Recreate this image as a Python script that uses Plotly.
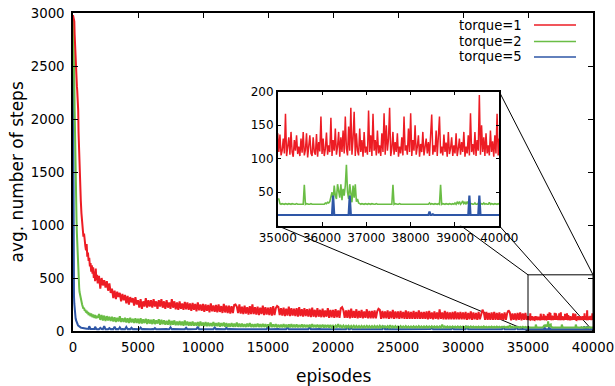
import plotly.graph_objects as go

# ---------------------------------------------------------------
# Episode grid: fine near the start and in the zoomed window
# ---------------------------------------------------------------
ep_start = list(range(0, 500, 25))
ep_early = list(range(500, 2000, 50))
ep_mid = list(range(2000, 35000, 100))
ep_zoom = list(range(35000, 40001, 25))
episodes = ep_start + ep_early + ep_mid + ep_zoom

# ---------------------------------------------------------------
# torque = 1
# ---------------------------------------------------------------
t1_start = [2980, 2960, 2950, 2940, 2920, 2800, 2700, 2600, 2500, 2450,
            2400, 2360, 2310, 2270, 2230, 2190, 2080, 1880, 1760, 1640]
t1_early = [1530, 1400, 1230, 1110, 1000, 950, 890, 920, 820, 800,
            760, 820, 700, 740, 660, 690, 610, 640, 560, 620,
            540, 600, 500, 560, 470, 590, 480, 530, 450, 520]
t1_mid = [
    520, 400, 500, 430, 480, 410, 470, 380, 450, 360,
    400, 310, 380, 300, 370, 320, 360, 280, 350, 290,
    340, 260, 330, 250, 320, 270, 310, 240, 320, 250,
    290, 220, 300, 210, 280, 230, 310, 220, 290, 230,
    290, 220, 300, 230, 280, 210, 290, 230, 300, 220,
    280, 210, 290, 220, 270, 210, 300, 220, 280, 205,
    270, 200, 280, 210, 260, 200, 275, 205, 270, 200,
    260, 190, 265, 200, 255, 185, 270, 195, 250, 190,
    255, 180, 250, 190, 245, 175, 260, 185, 240, 180,
    245, 175, 250, 180, 235, 170, 255, 175, 240, 170,
    240, 165, 235, 170, 245, 250, 230, 170, 250, 165,
    230, 160, 240, 165, 225, 155, 235, 160, 250, 160,
    225, 155, 230, 150, 220, 160, 240, 150, 225, 155,
    220, 150, 225, 145, 235, 150, 215, 235, 225, 150,
    215, 145, 220, 140, 210, 145, 230, 140, 215, 145,
    210, 140, 215, 135, 225, 140, 205, 135, 215, 140,
    205, 135, 210, 130, 220, 135, 200, 130, 215, 135,
    200, 130, 210, 130, 195, 135, 215, 125, 200, 130,
    200, 125, 205, 130, 195, 125, 215, 225, 195, 125,
    195, 125, 200, 120, 210, 125, 190, 125, 205, 120,
    190, 125, 200, 120, 185, 125, 205, 120, 190, 120,
    190, 120, 195, 120, 185, 210, 200, 115, 190, 120,
    185, 120, 195, 115, 185, 120, 200, 115, 185, 120,
    185, 115, 190, 120, 180, 115, 195, 115, 185, 115,
    180, 115, 190, 115, 180, 115, 195, 115, 180, 115,
    180, 115, 185, 110, 190, 115, 175, 110, 185, 115,
    175, 110, 205, 115, 175, 110, 190, 110, 180, 110,
    175, 110, 180, 110, 185, 110, 175, 110, 180, 110,
    175, 110, 180, 105, 170, 110, 185, 105, 175, 110,
    170, 105, 180, 110, 170, 200, 175, 105, 180, 105,
    170, 105, 175, 105, 180, 105, 170, 105, 175, 105,
    165, 105, 175, 105, 170, 195, 175, 100, 165, 105,
    165, 100, 170, 105, 175, 100, 165, 105, 170, 105,
]
t1_zoom = [
    138, 110, 136, 105, 112, 130, 108, 167, 104, 115, 132, 106, 140, 110, 103, 128, 112, 135, 107, 118,
    104, 130, 109, 140, 105, 113, 138, 102, 120, 135, 108, 104, 132, 110, 106, 137, 103, 125, 111, 163,
    107, 130, 104, 115, 139, 106, 120, 110, 161, 104, 128, 112, 145, 106, 118, 140, 103, 132, 110, 142,
    108, 163, 115, 105, 148, 112, 176, 106, 130, 170, 104, 138, 112, 105, 145, 110, 128, 103, 140, 109,
    118, 106, 172, 110, 135, 104, 167, 112, 128, 105, 142, 108, 120, 104, 138, 110, 168, 106, 150, 112,
    130, 176, 104, 115, 140, 106, 125, 110, 138, 103, 118, 108, 132, 105, 163, 112, 120, 106, 145, 110,
    168, 104, 128, 112, 150, 106, 118, 135, 103, 122, 110, 140, 105, 115, 130, 108, 125, 104, 138, 166,
    106, 120, 110, 142, 104, 130, 163, 108, 118, 105, 136, 110, 124, 103, 140, 107, 115, 132, 104, 120,
    108, 138, 104, 115, 130, 106, 125, 110, 140, 103, 118, 108, 135, 105, 168, 110, 122, 106, 140, 104,
    128, 112, 195, 106, 150, 110, 132, 104, 138, 108, 120, 105, 142, 110, 126, 103, 135, 108, 167, 105,
    130,
]

# ---------------------------------------------------------------
# torque = 2
# ---------------------------------------------------------------
t2_start = [2950, 2850, 2700, 2550, 2350, 2100, 1850, 1650, 1450, 1300,
            1150, 1030, 920, 820, 730, 650, 580, 500, 450, 410]
t2_early = [370, 330, 300, 270, 250, 230, 210, 220, 190, 200,
            175, 190, 165, 180, 150, 170, 160, 140, 165, 145,
            130, 155, 140, 125, 150, 130, 120, 145, 125, 135]
t2_mid = [
    160, 105, 150, 100, 145, 95, 140, 100, 135, 95,
    135, 90, 130, 85, 125, 90, 140, 85, 120, 85,
    125, 80, 120, 75, 125, 80, 115, 75, 120, 75,
    115, 70, 120, 70, 110, 75, 115, 65, 110, 70,
    105, 65, 110, 65, 100, 70, 110, 60, 105, 65,
    100, 60, 95, 60, 105, 55, 95, 60, 100, 55,
    90, 55, 95, 55, 90, 50, 100, 55, 90, 50,
    85, 50, 90, 50, 80, 50, 85, 45, 90, 50,
    80, 45, 85, 45, 80, 45, 75, 45, 85, 45,
    75, 45, 80, 40, 75, 45, 80, 40, 75, 40,
    70, 40, 75, 40, 70, 40, 80, 40, 70, 40,
    70, 40, 65, 38, 70, 40, 75, 38, 65, 38,
    65, 38, 70, 38, 65, 36, 68, 38, 65, 36,
    62, 36, 80, 36, 62, 36, 65, 35, 60, 36,
    60, 35, 65, 35, 60, 35, 62, 35, 65, 35,
    60, 35, 62, 34, 58, 35, 62, 34, 60, 34,
    58, 34, 60, 34, 65, 34, 58, 34, 60, 34,
    56, 34, 60, 33, 56, 34, 58, 33, 56, 33,
    50, 33, 52, 33, 65, 33, 50, 33, 52, 33,
    48, 33, 50, 32, 48, 33, 50, 32, 49, 33,
    47, 32, 49, 33, 47, 32, 48, 33, 47, 32,
    46, 32, 48, 32, 46, 32, 49, 32, 46, 32,
    45, 32, 47, 32, 55, 32, 45, 32, 47, 32,
    44, 32, 46, 32, 44, 32, 46, 32, 44, 32,
    44, 32, 45, 32, 44, 32, 46, 32, 44, 32,
    43, 32, 45, 32, 44, 32, 45, 32, 43, 32,
    43, 32, 44, 32, 60, 32, 44, 32, 43, 32,
    42, 32, 44, 32, 42, 32, 44, 32, 42, 32,
    42, 32, 43, 32, 42, 32, 44, 32, 42, 32,
    41, 32, 42, 32, 41, 32, 43, 32, 41, 32,
    40, 32, 42, 32, 41, 32, 42, 32, 40, 32,
    40, 32, 41, 32, 40, 32, 55, 32, 40, 32,
    39, 32, 40, 32, 39, 32, 40, 32, 39, 32,
]
t2_zoom = [
    40, 40, 33, 32, 33, 32, 32, 33, 32, 32, 33, 32, 32, 33, 32, 32, 32, 33, 32, 32,
    32, 33, 32, 32, 61, 32, 33, 32, 32, 32, 33, 32, 32, 33, 32, 32, 33, 32, 32, 33,
    32, 33, 32, 34, 33, 35, 34, 36, 42, 50, 38, 60, 45, 40, 62, 48, 42, 62, 38, 55,
    45, 60, 91, 50, 40, 62, 48, 35, 60, 42, 62, 36, 40, 34, 33, 32, 33, 32, 32, 33,
    32, 32, 33, 32, 32, 33, 32, 32, 32, 33, 32, 32, 33, 32, 32, 32, 33, 32, 32, 33,
    32, 32, 33, 32, 61, 32, 33, 32, 32, 32, 33, 32, 32, 33, 32, 32, 32, 33, 32, 32,
    33, 32, 32, 32, 33, 32, 32, 33, 32, 32, 32, 33, 32, 32, 33, 32, 32, 34, 32, 33,
    32, 32, 33, 32, 32, 33, 32, 61, 32, 33, 32, 32, 33, 32, 32, 33, 32, 32, 33, 32,
    34, 32, 35, 33, 36, 32, 34, 37, 33, 35, 32, 36, 33, 34, 32, 33, 32, 32, 34, 32,
    32, 33, 35, 32, 33, 32, 34, 32, 33, 32, 32, 35, 32, 33, 32, 32, 33, 32, 32, 33,
    32,
]

# ---------------------------------------------------------------
# torque = 5
# ---------------------------------------------------------------
t5_start = [2750, 1200, 420, 330, 260, 200, 165, 140, 120, 105,
            92, 82, 74, 68, 62, 57, 52, 48, 44, 40]
t5_early = [38, 35, 32, 30, 28, 26, 25, 24, 23, 22,
            22, 21, 21, 20, 20, 45, 20, 19, 19, 19,
            18, 19, 18, 18, 40, 18, 18, 17, 18, 17]
t5_mid = [
    17, 30, 18, 17, 45, 17, 18, 17, 28, 17,
    18, 17, 40, 17, 18, 17, 35, 17, 18, 17,
    17, 38, 17, 18, 17, 30, 17, 18, 17, 17,
    18, 17, 32, 17, 18, 17, 17, 18, 17, 17,
    17, 18, 17, 28, 17, 17, 18, 17, 17, 18,
    17, 17, 18, 17, 17, 35, 17, 18, 17, 17,
    18, 17, 17, 18, 17, 17, 17, 30, 17, 17,
    17, 18, 17, 17, 17, 18, 40, 17, 17, 18,
    17, 17, 18, 17, 17, 17, 18, 17, 17, 33,
    17, 18, 17, 17, 17, 18, 17, 17, 30, 17,
    18, 17, 17, 17, 18, 17, 17, 17, 17, 18,
    17, 17, 18, 17, 17, 17, 17, 18, 17, 17,
    17, 18, 17, 17, 17, 18, 17, 17, 17, 17,
    55, 17, 17, 18, 17, 17, 17, 17, 18, 17,
    17, 17, 18, 17, 17, 35, 17, 17, 17, 18,
    17, 17, 17, 18, 17, 17, 17, 17, 18, 17,
    17, 17, 40, 17, 17, 18, 17, 17, 17, 17,
    18, 17, 17, 17, 17, 18, 17, 17, 17, 17,
    17, 17, 18, 17, 17, 17, 17, 18, 17, 17,
    17, 38, 17, 17, 35, 17, 17, 18, 17, 17,
    17, 17, 17, 18, 17, 17, 17, 17, 17, 18,
    17, 17, 17, 17, 18, 17, 17, 17, 17, 38,
    17, 18, 17, 17, 17, 17, 18, 17, 17, 17,
    17, 17, 17, 18, 17, 17, 17, 17, 18, 17,
    17, 17, 18, 17, 17, 17, 17, 17, 17, 18,
    17, 17, 17, 17, 17, 18, 35, 17, 17, 17,
    18, 17, 17, 17, 17, 17, 18, 17, 17, 17,
    17, 17, 32, 17, 17, 18, 17, 17, 17, 17,
    17, 17, 17, 38, 17, 17, 17, 18, 17, 17,
    17, 18, 17, 17, 17, 17, 17, 17, 18, 17,
    17, 17, 17, 18, 17, 17, 17, 17, 17, 17,
    17, 35, 17, 17, 17, 18, 17, 17, 17, 17,
    17, 33, 17, 17, 17, 17, 18, 17, 17, 16,
]
t5_zoom = [
    16, 16, 16, 16, 16, 16, 16, 16, 16, 16, 16, 16, 16, 16, 16, 16, 16, 16, 16, 16,
    17, 16, 16, 16, 16, 16, 16, 16, 16, 16, 16, 16, 16, 16, 16, 16, 16, 16, 16, 16,
    17, 16, 16, 16, 16, 16, 16, 16, 16, 16, 45, 16, 16, 16, 16, 16, 16, 16, 16, 16,
    17, 16, 16, 16, 16, 45, 16, 16, 16, 16, 16, 16, 16, 16, 16, 16, 16, 16, 16, 16,
    17, 16, 16, 16, 16, 16, 16, 16, 16, 16, 16, 16, 16, 16, 16, 16, 16, 16, 16, 16,
    17, 16, 16, 16, 16, 16, 16, 16, 16, 16, 16, 16, 16, 16, 16, 16, 16, 16, 16, 16,
    17, 16, 16, 16, 16, 16, 16, 16, 16, 16, 16, 16, 16, 16, 16, 16, 16, 21, 16, 16,
    17, 16, 16, 16, 16, 16, 16, 16, 16, 16, 16, 16, 16, 16, 16, 16, 16, 16, 16, 16,
    17, 16, 16, 16, 16, 16, 16, 16, 16, 16, 16, 16, 16, 45, 16, 16, 16, 16, 16, 16,
    17, 16, 45, 16, 16, 16, 16, 16, 16, 16, 16, 16, 16, 16, 16, 16, 16, 16, 16, 16,
    16,
]

torque_1 = t1_start + t1_early + t1_mid + t1_zoom
torque_2 = t2_start + t2_early + t2_mid + t2_zoom
torque_5 = t5_start + t5_early + t5_mid + t5_zoom
for s in (torque_1, torque_2, torque_5):
    assert len(s) == len(episodes), (len(s), len(episodes))

series_names = ["torque=1", "torque=2", "torque=5"]
series_values = [torque_1, torque_2, torque_5]
series_colors = ["#ED1C24", "#6ABD45", "#2E56A6"]

# axis ranges
main_x = [0, 40000]
main_y = [0, 3000]
zoom_x = [35000, 40000]
zoom_y = [0, 200]
zoom_box_top = 530          # height of the marked region in the main axes

x_ticks = list(range(0, 40001, 5000))
y_ticks = list(range(0, 3001, 500))
zx_ticks = list(range(35000, 40001, 1000))
zy_ticks = [50, 100, 150, 200]

# secondary right-hand tick marks (unlabelled)
right_range = [0, 9.876]
right_ticks = [0.963 + k for k in range(9)]

# inset placement (paper fractions of the main plotting area)
inset_dom_x = [0.3937, 0.8198]
inset_dom_y = [0.331, 0.7525]

FONT = "DejaVu Sans"

fig = go.Figure()

# main traces (torque=1 drawn last, on top)
for name, vals, col in zip(series_names[::-1], series_values[::-1],
                           series_colors[::-1]):
    fig.add_trace(go.Scatter(x=episodes, y=vals, mode="lines", name=name,
                             line=dict(color=col, width=2.0),
                             xaxis="x", yaxis="y", showlegend=False))

# inset traces
for name, vals, col, w in zip(series_names, series_values, series_colors,
                              [1.5, 1.6, 2.2]):
    fig.add_trace(go.Scatter(x=episodes, y=vals, mode="lines", name=name,
                             line=dict(color=col, width=w),
                             xaxis="x2", yaxis="y2", showlegend=False))

axis_common = dict(showline=True, linecolor="black", linewidth=1.5,
                   mirror="ticks", ticks="inside", tickcolor="black",
                   showgrid=False, zeroline=False, automargin=False)

fig.update_layout(
    width=615, height=386,
    margin=dict(l=73, r=22, t=13, b=55, autoexpand=False),
    paper_bgcolor="white", plot_bgcolor="white",
    font=dict(family=FONT, color="black"),
    xaxis=dict(range=main_x, tickvals=x_ticks, tickformat="d", ticklen=5,
               tickwidth=1.2, tickfont=dict(size=13.3), ticklabelstandoff=3,
               domain=[0, 1], **axis_common),
    yaxis=dict(range=main_y, tickvals=y_ticks, tickformat="d", ticklen=5,
               tickwidth=1.2, tickfont=dict(size=13.3), ticklabelstandoff=4,
               domain=[0, 1], **axis_common),
    yaxis3=dict(range=right_range, tickvals=right_ticks, overlaying="y",
                side="right", anchor="x", ticks="inside", ticklen=5,
                tickwidth=1.2, tickcolor="black", showticklabels=False,
                showline=False, showgrid=False, zeroline=False,
                automargin=False),
    xaxis2=dict(range=zoom_x, tickvals=zx_ticks, tickformat="d", ticklen=4,
                tickwidth=1.2, tickfont=dict(size=12), domain=inset_dom_x,
                anchor="y2", **axis_common),
    yaxis2=dict(range=zoom_y, tickvals=zy_ticks, tickformat="d", ticklen=4,
                tickwidth=1.2, tickfont=dict(size=12), domain=inset_dom_y,
                anchor="x2", **axis_common),
)

# axis titles
fig.add_annotation(text="episodes", xref="paper", yref="paper",
                   x=0.5, y=-0.1415, xanchor="center", yanchor="middle",
                   showarrow=False, font=dict(size=17))
fig.add_annotation(text="avg. number of steps", xref="paper", yref="paper",
                   x=-0.1058, y=0.5016, xanchor="center", yanchor="middle",
                   textangle=-90, showarrow=False, font=dict(size=17))

# key: label on the left, line sample on the right
key_y = [0.962, 0.910, 0.862]
for name, col, ky in zip(series_names, series_colors, key_y):
    fig.add_annotation(text=name, xref="paper", yref="paper", x=0.867, y=ky,
                       xanchor="right", yanchor="middle", showarrow=False,
                       font=dict(size=13.2))
    fig.add_shape(type="line", xref="paper", yref="paper",
                  x0=0.8865, x1=0.9673, y0=ky, y1=ky,
                  line=dict(color=col, width=1.5))

# marked zoom region in the main axes
fig.add_shape(type="rect", xref="x", yref="y",
              x0=zoom_x[0], x1=zoom_x[1], y0=0, y1=zoom_box_top,
              line=dict(color="black", width=1), layer="above")


def to_paper_x(v):
    return (v - main_x[0]) / (main_x[1] - main_x[0])


def to_paper_y(v):
    return (v - main_y[0]) / (main_y[1] - main_y[0])


# connectors from the inset corners to the marked region corners
box_corners = [(zoom_x[0], 0), (zoom_x[1], 0),
               (zoom_x[0], zoom_box_top), (zoom_x[1], zoom_box_top)]
inset_corners = [(inset_dom_x[0], inset_dom_y[0]), (inset_dom_x[1], inset_dom_y[0]),
                 (inset_dom_x[0], inset_dom_y[1]), (inset_dom_x[1], inset_dom_y[1])]
for (bx, by), (ix, iy) in zip(box_corners, inset_corners):
    fig.add_shape(type="line", xref="paper", yref="paper",
                  x0=ix, y0=iy, x1=to_paper_x(bx), y1=to_paper_y(by),
                  line=dict(color="black", width=1), layer="below")

fig.write_html("out.html")
